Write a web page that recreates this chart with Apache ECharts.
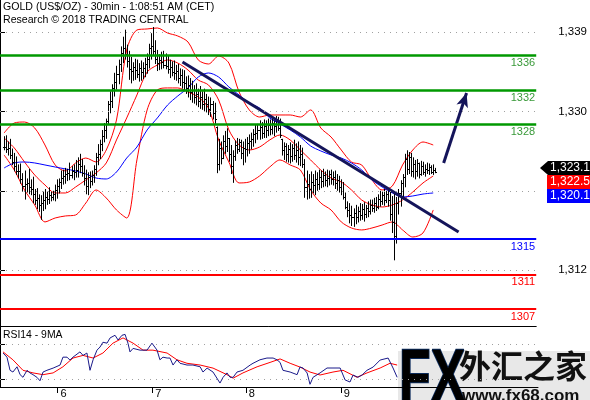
<!DOCTYPE html>
<html>
<head>
<meta charset="utf-8">
<script src="https://cdn.jsdelivr.net/npm/echarts@6/dist/echarts.min.js"></script>
<style>
  html, body { margin: 0; padding: 0; background: #fff; }
  #chart { width: 590px; height: 400px; }
</style>
</head>
<body>
<div id="chart"></div>
<script>
// 30min bars, bar number on the x axis (first bar = barStart)
const barStart = 2;
const highs = [
  1327.2, 1327.3, 1326.6, 1326.9, 1325.8, 1325.3, 1324.9, 1324.0, 1324.1, 1323.0,
  1323.3, 1322.4, 1323.5, 1322.3, 1322.6, 1321.2, 1321.3, 1320.6, 1320.5, 1320.9,
  1321.2, 1320.9, 1321.4, 1320.9, 1321.0, 1321.7, 1322.3, 1322.4, 1323.3, 1323.4,
  1323.6, 1323.5, 1324.2, 1323.8, 1324.0, 1324.5, 1324.8, 1325.2, 1324.6, 1323.9,
  1323.4, 1323.1, 1323.2, 1323.3, 1323.9, 1325.3, 1326.3, 1326.8, 1327.9, 1328.7,
  1329.2, 1331.2, 1332.3, 1333.1, 1334.4, 1335.2, 1335.9, 1337.4, 1338.5, 1339.3,
  1337.6, 1336.9, 1336.2, 1335.6, 1336.0, 1335.9, 1335.5, 1335.8, 1335.6, 1336.1,
  1336.6, 1337.7, 1338.9, 1339.6, 1338.1, 1337.0, 1336.5, 1336.8, 1336.9, 1336.6,
  1336.4, 1335.9, 1335.7, 1335.8, 1335.3, 1335.4, 1334.9, 1334.8, 1334.7, 1334.0,
  1334.1, 1333.8, 1333.5, 1333.0, 1333.2, 1332.6, 1332.9, 1332.3, 1332.6, 1332.0,
  1331.7, 1331.6, 1331.2, 1331.0, 1328.3, 1326.9, 1326.6, 1327.3, 1327.8, 1328.1,
  1327.0, 1326.2, 1325.6, 1326.7, 1327.0, 1326.9, 1326.8, 1326.6, 1326.9, 1327.1,
  1327.4, 1327.6, 1328.0, 1328.5, 1328.6, 1329.0, 1328.8, 1329.1, 1329.0, 1329.2,
  1329.1, 1329.3, 1329.0, 1329.5, 1329.4, 1329.2, 1326.9, 1326.5, 1326.4, 1326.2,
  1326.5, 1326.3, 1326.8, 1326.4, 1326.6, 1326.2, 1325.9, 1324.6, 1323.3, 1322.9,
  1323.2, 1322.9, 1323.3, 1323.1, 1323.4, 1323.3, 1323.5, 1323.2, 1323.4, 1323.3,
  1323.4, 1323.2, 1323.3, 1322.9, 1322.7, 1322.3, 1322.0, 1320.8, 1319.8, 1319.6,
  1319.3, 1319.0, 1319.4, 1319.2, 1319.6, 1319.5, 1319.7, 1319.4, 1319.8, 1320.0,
  1320.0, 1320.2, 1320.3, 1320.6, 1321.0, 1320.9, 1321.2, 1321.0, 1321.3, 1320.9,
  1320.4, 1320.8, 1320.3, 1321.2, 1322.2, 1322.9, 1325.2, 1325.6, 1325.4, 1325.3,
  1324.8, 1324.5, 1324.6, 1324.2, 1324.4, 1324.3, 1324.0, 1324.2, 1324.1, 1323.9, 1324.0, 1323.6
];
const lows = [
  1325.6, 1325.3, 1325.0, 1324.6, 1323.9, 1323.2, 1322.8, 1322.4, 1321.8, 1320.9,
  1320.0, 1320.8, 1320.6, 1320.5, 1319.6, 1319.4, 1318.9, 1318.6, 1317.7, 1318.7,
  1318.9, 1319.4, 1319.5, 1319.8, 1319.9, 1319.8, 1320.1, 1320.7, 1321.2, 1321.7,
  1321.8, 1322.1, 1322.2, 1322.4, 1322.2, 1322.5, 1322.5, 1323.0, 1322.6, 1321.6,
  1320.6, 1320.5, 1321.3, 1321.6, 1321.9, 1322.7, 1323.9, 1324.6, 1325.5, 1326.5,
  1326.9, 1328.6, 1329.8, 1330.4, 1331.7, 1332.5, 1333.1, 1334.5, 1335.5, 1335.9,
  1335.0, 1333.6, 1333.2, 1333.5, 1333.6, 1333.8, 1333.4, 1333.5, 1333.7, 1333.9,
  1334.3, 1334.9, 1335.9, 1336.3, 1335.4, 1334.6, 1334.7, 1334.8, 1334.9, 1334.8,
  1334.3, 1333.8, 1334.0, 1333.6, 1333.5, 1333.2, 1332.9, 1332.6, 1332.3, 1332.0,
  1331.6, 1331.3, 1331.0, 1330.9, 1330.7, 1330.5, 1330.3, 1330.2, 1330.0, 1329.9,
  1329.6, 1329.4, 1329.1, 1328.6, 1323.0, 1323.3, 1324.0, 1324.6, 1325.2, 1325.4,
  1324.3, 1322.9, 1321.9, 1324.4, 1325.2, 1325.4, 1324.6, 1323.9, 1324.2, 1324.9,
  1325.2, 1325.7, 1326.0, 1326.4, 1326.8, 1326.8, 1326.9, 1327.0, 1327.0, 1327.2,
  1327.3, 1327.4, 1327.2, 1327.6, 1327.8, 1327.0, 1325.0, 1324.5, 1324.3, 1324.2,
  1324.1, 1324.3, 1324.5, 1324.2, 1323.9, 1323.8, 1323.6, 1320.2, 1320.0, 1320.1,
  1320.2, 1320.7, 1320.5, 1321.0, 1321.1, 1321.3, 1321.4, 1321.5, 1321.4, 1321.6,
  1321.7, 1321.6, 1321.2, 1321.0, 1320.8, 1320.5, 1320.0, 1318.9, 1318.0, 1317.3,
  1317.0, 1316.9, 1317.2, 1317.4, 1317.6, 1317.7, 1317.5, 1317.9, 1318.0, 1318.3,
  1318.6, 1318.5, 1318.7, 1318.9, 1319.2, 1319.4, 1319.3, 1319.6, 1319.2, 1317.6,
  1316.2, 1313.1, 1315.0, 1318.3, 1319.2, 1320.2, 1321.4, 1322.8, 1322.9, 1322.6,
  1322.5, 1322.3, 1322.6, 1322.4, 1322.7, 1322.8, 1322.6, 1322.9, 1322.8, 1322.9, 1322.8, 1323.0
];
const closes = [
  1326.0, 1325.7, 1325.9, 1325.1, 1324.3, 1323.8, 1323.3, 1323.2, 1322.3, 1321.5,
  1321.8, 1321.9, 1321.4, 1321.2, 1320.6, 1320.0, 1320.2, 1319.4, 1319.6, 1320.0,
  1320.3, 1320.1, 1320.5, 1320.3, 1320.6, 1321.1, 1321.5, 1322.0, 1322.5, 1322.7,
  1322.9, 1323.0, 1322.8, 1323.3, 1323.1, 1323.4, 1324.0, 1323.8, 1323.0, 1322.4,
  1321.5, 1322.6, 1322.1, 1322.8, 1323.5, 1324.8, 1325.2, 1326.3, 1327.2, 1327.9,
  1328.9, 1330.8, 1331.2, 1332.7, 1333.4, 1334.3, 1335.4, 1336.6, 1337.2, 1336.5,
  1335.7, 1334.8, 1334.6, 1335.1, 1334.7, 1334.3, 1334.9, 1334.5, 1335.0, 1335.4,
  1336.0, 1337.2, 1337.5, 1336.9, 1336.0, 1335.5, 1335.9, 1335.6, 1335.3, 1335.2,
  1334.8, 1335.1, 1334.5, 1334.4, 1334.6, 1333.8, 1334.1, 1333.4, 1333.2, 1332.7,
  1333.0, 1332.2, 1332.5, 1331.6, 1332.0, 1331.2, 1331.7, 1330.9, 1331.4, 1330.8,
  1330.3, 1330.8, 1329.8, 1329.2, 1324.0, 1325.9, 1324.7, 1326.6, 1326.1, 1327.0,
  1325.2, 1323.8, 1325.0, 1326.2, 1325.8, 1326.5, 1325.3, 1325.9, 1325.7, 1326.4,
  1326.7, 1326.9, 1327.5, 1327.6, 1327.9, 1328.2, 1327.6, 1328.4, 1327.9, 1328.5,
  1328.0, 1328.7, 1328.4, 1328.9, 1328.1, 1327.3, 1325.6, 1326.1, 1325.2, 1325.7,
  1325.0, 1325.9, 1325.1, 1325.6, 1324.8, 1325.2, 1324.0, 1321.4, 1321.8, 1321.2,
  1322.0, 1321.6, 1322.3, 1321.8, 1322.6, 1322.1, 1322.8, 1322.2, 1322.5, 1322.9,
  1322.3, 1322.6, 1321.9, 1322.2, 1321.4, 1321.0, 1320.3, 1319.2, 1318.8, 1318.2,
  1318.0, 1318.5, 1318.0, 1318.7, 1318.3, 1318.9, 1318.4, 1319.0, 1318.7, 1319.4,
  1319.1, 1319.6, 1319.2, 1320.1, 1319.8, 1320.5, 1320.0, 1320.6, 1319.9, 1318.4,
  1317.4, 1315.9, 1319.6, 1320.8, 1321.9, 1322.6, 1324.6, 1323.5, 1324.8, 1323.3,
  1324.0, 1323.2, 1324.1, 1322.9, 1323.8, 1323.1, 1323.5, 1323.4, 1323.7, 1323.1, 1323.4, 1323.18
];

// indicator readings, taken every 5 bars
const bandBars = [2, 7, 12, 17, 22, 27, 32, 37, 42, 47, 52, 57, 62, 67, 72, 77, 82, 87, 92, 97, 102,
  107, 112, 117, 122, 127, 132, 137, 142, 147, 152, 157, 162, 167, 172, 177, 182, 187, 192, 197, 202, 207, 212];
const bandUpper = [1327.56, 1328.70, 1328.81, 1328.13, 1326.20, 1323.93, 1323.25, 1324.16, 1324.72, 1324.27,
  1325.63, 1329.04, 1336.99, 1339.26, 1339.38, 1339.49, 1338.92, 1338.58, 1337.90, 1335.86,
  1335.40, 1336.31, 1335.51, 1332.22, 1330.18, 1329.38, 1329.61, 1329.61, 1329.61, 1329.38,
  1330.18, 1328.13, 1327.11, 1325.63, 1324.27, 1323.93, 1322.23, 1321.09, 1321.54, 1323.93,
  1325.63, 1326.54, 1326.20];
const bandMiddle = [1327.00, 1325.86, 1324.27, 1322.79, 1321.66, 1320.75, 1320.75, 1321.43, 1322.23, 1323.02,
  1324.16, 1326.77, 1329.27, 1331.88, 1334.49, 1335.29, 1335.86, 1335.51, 1334.72, 1333.58,
  1333.02, 1331.31, 1327.91, 1326.20, 1325.63, 1325.97, 1326.77, 1327.34, 1326.77, 1325.63,
  1324.50, 1323.36, 1322.45, 1322.00, 1321.09, 1319.95, 1319.39, 1319.16, 1319.39, 1319.95,
  1320.86, 1321.89, 1322.68];
const bandLower = [1325.07, 1323.36, 1321.09, 1319.39, 1317.46, 1317.91, 1318.14, 1318.25, 1319.61, 1321.09,
  1320.18, 1318.82, 1317.91, 1324.50, 1330.18, 1332.45, 1332.68, 1332.68, 1332.22, 1331.65,
  1330.40, 1326.77, 1324.27, 1321.89, 1322.00, 1322.68, 1323.70, 1324.50, 1323.93, 1323.36,
  1321.09, 1319.61, 1318.82, 1317.46, 1316.77, 1316.55, 1316.77, 1317.11, 1317.46, 1316.55,
  1315.75, 1316.21, 1318.82];
const maBlue = [1323.59, 1324.16, 1324.27, 1324.16, 1323.93, 1323.70, 1323.48, 1323.25, 1322.91, 1322.45,
  1322.34, 1323.13, 1324.72, 1325.97, 1327.91, 1329.27, 1330.74, 1331.77, 1332.68, 1333.92,
  1334.38, 1333.92, 1332.79, 1331.88, 1330.97, 1330.40, 1329.27, 1328.59, 1327.91, 1327.11,
  1326.09, 1325.52, 1325.07, 1324.72, 1324.16, 1323.36, 1322.23, 1321.43, 1320.75, 1320.29,
  1320.41, 1320.63, 1320.75];

// support / resistance levels
const levelValues = [1336.4, 1332.4, 1328.5, 1315.5, 1311.5, 1307.55];
const levelLabels = ['1336', '1332', '1328', '1315', '1311', '1307'];

// trend line and target arrow: [bar, price]
const trendFrom = [89.3, 1335.63];
const trendTo = [224.4, 1316.32];
const arrowFrom = [217.1, 1324.16];
const arrowTo = [228.3, 1332.11];

// last values shown on the price scale
const tagValues = [1323.18, 1322.54, 1320.18];

// price axis
const priceGrid = [1312, 1321, 1330, 1339];
const priceLabels = [1312, 1330, 1339];

// days
const dayBars = [28.1, 74.3, 119.9, 166.2];
const dayLabels = ['6', '7', '8', '9'];

// RSI14 and its 9 period average
const rsiBars = [1.5, 3.4, 4.9, 6.3, 8.3, 9.8, 11.2, 13.2, 14.6, 16.1, 18, 19.5, 21, 22.9, 25.9, 29.3, 30.7, 32.7,
  34.1, 35.6, 39, 40.5, 42.4, 43.9, 45.4, 47.3, 48.8, 50.2, 52.2, 53.7, 56.1, 57.6, 59.5, 61, 62.4, 63.4, 64.9,
  68.3, 71.7, 74.1, 76.6, 78, 79.5, 81.5, 82.9, 84.4, 86.3, 87.8, 91.2, 94.1, 97.6, 99, 101, 103.9, 107.3,
  108.8, 110.7, 112.2, 113.7, 115.6, 118.5, 122, 123.4, 126.8, 130.2, 133.2, 135.1, 136.6, 138, 141.5, 144.9,
  146.3, 147.8, 149.8, 151.2, 152.7, 156.1, 159.5, 162.4, 165.9, 168.3, 170.7, 172.2, 174.6, 176.6, 179, 182,
  185.4, 189.3, 191.7, 193.7];
const rsiValues = [59.7, 55, 40, 38, 44, 35, 32, 40, 37, 35, 32, 28, 38, 40, 42.5, 46, 55, 55, 51.7, 55,
  61, 57, 59.7, 40, 52, 63, 66.6, 72, 71, 77, 80, 74.6, 80, 81, 71, 61, 65, 63, 63, 71,
  63, 52, 55, 54, 54, 46, 52, 48, 46, 46, 44, 38, 42.5, 38, 25.4, 32, 37, 32, 32, 38,
  40, 46, 48, 52, 54, 54, 52, 49, 40, 38, 35, 43.7, 42.6, 36.9, 24, 32, 37, 42.6, 42.6, 42.6,
  29, 26.6, 34.6, 32, 34.6, 40, 43.7, 51.7, 54, 42.6, 32];
const rsiMaBars = [1.5, 6.3, 11.2, 16.1, 21, 25.9, 30.7, 35.6, 40.5, 45.4, 50.2, 55.1, 60, 64.9, 69.8, 74.6,
  81.5, 86.3, 91.2, 97.6, 103.9, 110.7, 113.7, 118.5, 125.4, 131.7, 136.6, 141.5, 146.3, 151.2, 156.1,
  162.4, 167.3, 174.1, 179, 185.4, 190.2, 193.7];
const rsiMaValues = [61, 52, 40, 37, 35, 37, 44, 54, 57, 54, 59.7, 71, 77, 71, 63, 63, 59.7, 52, 48, 46,
  42.5, 35, 31, 37, 44, 49, 53, 48, 43.7, 38, 34.6, 38, 40, 32, 37, 42.6, 48, 46];
const rsiGrid = [70, 30];

const FONT = 'Liberation Sans';
const chart = echarts.init(document.getElementById('chart'));

const ohlc = highs.map((h, i) => [barStart + i, i ? closes[i - 1] : closes[0], h, lows[i], closes[i]]);
const pairs = (xs, ys) => xs.map((x, i) => [x, ys[i]]);
const fmt = v => v.toLocaleString('en-US');

const levelColors = ['#009900', '#009900', '#009900', '#0000ff', '#ff0000', '#ff0000'];
const levelTextColors = ['#3a9a3a', '#3a9a3a', '#3a9a3a', '#0000ff', '#ff0000', '#ff0000'];
const tagColors = ['#000', '#ff0000', '#0000ff'];

const dotted = { type: [1, 5], color: '#a0a0a0', width: 1 };

function renderBar(params, api) {
  const x = api.value(0), h = api.value(2), l = api.value(3), c = api.value(4);
  const o = Math.min(Math.max(api.value(1), l), h);
  const pH = api.coord([x, h]), pL = api.coord([x, l]);
  const pO = api.coord([x, o]), pC = api.coord([x, c]);
  const px = Math.round(pH[0]) + 0.5;
  const style = { stroke: '#000', lineWidth: 1 };
  return {
    type: 'group',
    children: [
      { type: 'line', shape: { x1: px, y1: pH[1], x2: px, y2: pL[1] }, style },
      { type: 'line', shape: { x1: px - 1.5, y1: Math.round(pO[1]) + 0.5, x2: px, y2: Math.round(pO[1]) + 0.5 }, style },
      { type: 'line', shape: { x1: px, y1: Math.round(pC[1]) + 0.5, x2: px + 1.5, y2: Math.round(pC[1]) + 0.5 }, style }
    ]
  };
}

const option = {
  animation: false,
  backgroundColor: '#fff',
  textStyle: { fontFamily: FONT },
  title: [
    {
      text: 'GOLD (US$/OZ) - 30min - 1:08:51 AM (CET)\nResearch © 2018 TRADING CENTRAL',
      left: 3, top: 1, padding: 0,
      textStyle: { fontSize: 10.6, fontWeight: 'normal', color: '#000', lineHeight: 13, fontFamily: FONT }
    },
    {
      text: 'RSI14 - 9MA',
      left: 3, top: 330, padding: 0,
      textStyle: { fontSize: 10.4, fontWeight: 'normal', color: '#000', fontFamily: FONT }
    }
  ],
  grid: [
    { left: 0, right: 52, top: 0, height: 326 },
    { left: 0, right: 52, top: 326, height: 61 }
  ],
  xAxis: [
    {
      type: 'value', gridIndex: 0, min: 0, max: 262.4,
      axisLine: { show: true, onZero: false, lineStyle: { color: '#000', width: 1 } },
      axisTick: { show: false }, axisLabel: { show: false }, splitLine: { show: false }
    },
    {
      type: 'value', gridIndex: 1, min: 0, max: 262.4,
      axisLine: { show: true, onZero: false, lineStyle: { color: '#000', width: 1 } },
      axisTick: { show: true, length: 6, lineStyle: { color: '#000' }, customValues: dayBars },
      axisLabel: {
        show: true, customValues: dayBars, fontSize: 11, color: '#000', margin: 1,
        align: 'left', padding: [0, 0, 0, 3],
        formatter: v => dayLabels[dayBars.indexOf(v)]
      },
      splitLine: { show: false }
    }
  ],
  yAxis: [
    {
      type: 'value', gridIndex: 0, position: 'right', min: 1305.64, max: 1342.67,
      axisLine: { show: true, lineStyle: { color: '#000', width: 1 } },
      axisTick: { show: true, length: 5, lineStyle: { color: '#000' }, customValues: priceGrid },
      axisLabel: { show: true, customValues: priceLabels, fontSize: 11.5, color: '#000', margin: 22, formatter: fmt },
      splitLine: { show: false }
    },
    {
      type: 'value', gridIndex: 1, position: 'right', min: 20.9, max: 90.6,
      axisLine: { show: true, lineStyle: { color: '#000', width: 1 } },
      axisTick: { show: true, length: 5, lineStyle: { color: '#000' }, customValues: rsiGrid },
      axisLabel: { show: false },
      splitLine: { show: false }
    }
  ],
  series: [
    {
      type: 'custom', name: 'price', xAxisIndex: 0, yAxisIndex: 0,
      renderItem: renderBar, data: ohlc, encode: { x: 0, y: [1, 2, 3, 4] }, z: 3
    },
    {
      type: 'line', name: 'upper', data: pairs(bandBars, bandUpper), showSymbol: false, smooth: 0.3,
      lineStyle: { color: '#ff0000', width: 1 }, z: 2
    },
    {
      type: 'line', name: 'middle', data: pairs(bandBars, bandMiddle), showSymbol: false, smooth: 0.3,
      lineStyle: { color: '#ff0000', width: 1 }, z: 2,
      markLine: {
        silent: true, symbol: ['none', 'none'],
        data: [
          [{ coord: trendFrom }, { coord: trendTo }],
          [{ coord: arrowFrom, symbol: 'none' }, { coord: arrowTo, symbol: 'arrow', symbolSize: [9, 14] }]
        ],
        lineStyle: { color: '#14145a', width: 3, type: 'solid' },
        label: { show: false }
      }
    },
    {
      type: 'line', name: 'lower', data: pairs(bandBars, bandLower), showSymbol: false, smooth: 0.3,
      lineStyle: { color: '#ff0000', width: 1 }, z: 2
    },
    {
      type: 'line', name: 'ma', data: pairs(bandBars, maBlue), showSymbol: false, smooth: 0.3,
      lineStyle: { color: '#0000ff', width: 1 }, z: 2,
      markLine: {
        silent: true, symbol: ['none', 'none'],
        data: [
          ...priceGrid.map(v => ({ yAxis: v, lineStyle: dotted, label: { show: false } })),
          ...levelValues.map((v, i) => ({
            yAxis: v,
            lineStyle: { color: levelColors[i], width: i < 3 ? 2.5 : 2, type: 'solid' },
            label: {
              show: true, position: 'insideEndBottom', distance: [1, 2], formatter: levelLabels[i],
              color: levelTextColors[i], fontSize: 11, fontFamily: FONT
            }
          }))
        ]
      }
    },
    {
      type: 'line', name: 'RSI14', xAxisIndex: 1, yAxisIndex: 1, data: pairs(rsiBars, rsiValues),
      showSymbol: false, lineStyle: { color: '#1a1a8a', width: 1 }, z: 3,
      markLine: {
        silent: true, symbol: ['none', 'none'],
        data: rsiGrid.map(v => ({ yAxis: v })),
        lineStyle: dotted, label: { show: false }
      }
    },
    {
      type: 'line', name: '9MA', xAxisIndex: 1, yAxisIndex: 1, data: pairs(rsiMaBars, rsiMaValues),
      showSymbol: false, lineStyle: { color: '#ff0000', width: 1 }, z: 2
    }
  ]
};

chart.setOption(option);

// last-value tags on the price scale, stacked so they don't overlap
const tagH = 14;
let ys = tagValues.map(v => chart.convertToPixel({ yAxisIndex: 0 }, v));
const raw = ys.slice();
for (let i = 1; i < ys.length; i++) ys[i] = Math.max(ys[i], ys[i - 1] + tagH);
const shift = raw.reduce((a, b) => a + b, 0) / raw.length - ys.reduce((a, b) => a + b, 0) / ys.length;
ys = ys.map(y => y + shift);

const tagGraphics = tagValues.map((v, i) => {
  const top = Math.round(ys[i] - tagH / 2);
  const body = i === 0
    ? { type: 'polygon', shape: { points: [[540, top + tagH / 2], [548, top], [590, top], [590, top + tagH], [548, top + tagH]] }, style: { fill: tagColors[i] } }
    : { type: 'rect', shape: { x: 547, y: top, width: 43, height: tagH }, style: { fill: tagColors[i] } };
  return {
    type: 'group', z: 50,
    children: [
      body,
      { type: 'text', x: 550, y: top + 1, style: { text: fmt(v), font: '12px "Liberation Sans"', fill: '#fff' } }
    ]
  };
});

chart.setOption({
  graphic: [
    ...tagGraphics,
    {
      type: 'group', left: 398, top: 343, z: 100,
      children: [
        { type: 'rect', shape: { x: 0, y: 0, width: 192, height: 57 }, style: { fill: '#e8e8e8' } },
        {
          type: 'text', x: 1, y: -7, scaleX: 0.7,
          style: {
            text: 'FX', font: 'bold 74px "Liberation Sans"',
            fill: new echarts.graphic.LinearGradient(0, 0, 0, 1, [
              { offset: 0, color: '#5ab4f0' }, { offset: 1, color: '#1060b0' }
            ]),
            stroke: '#0a2a5a', lineWidth: 2
          }
        },
        {
          type: 'text', x: 61, y: -1,
          style: {
            text: '外汇之家', font: 'bold 32px "Noto Sans CJK SC"', fill: '#111',
            textShadowColor: '#777', textShadowOffsetX: 2, textShadowOffsetY: 2, textShadowBlur: 0
          }
        },
        {
          type: 'text', x: 64, y: 37,
          style: {
            text: 'www.fx68.com', font: 'bold 17px "Liberation Sans"', fill: '#111',
            textShadowColor: '#777', textShadowOffsetX: 1, textShadowOffsetY: 1, textShadowBlur: 0
          }
        }
      ]
    }
  ]
});
</script>
</body>
</html>
